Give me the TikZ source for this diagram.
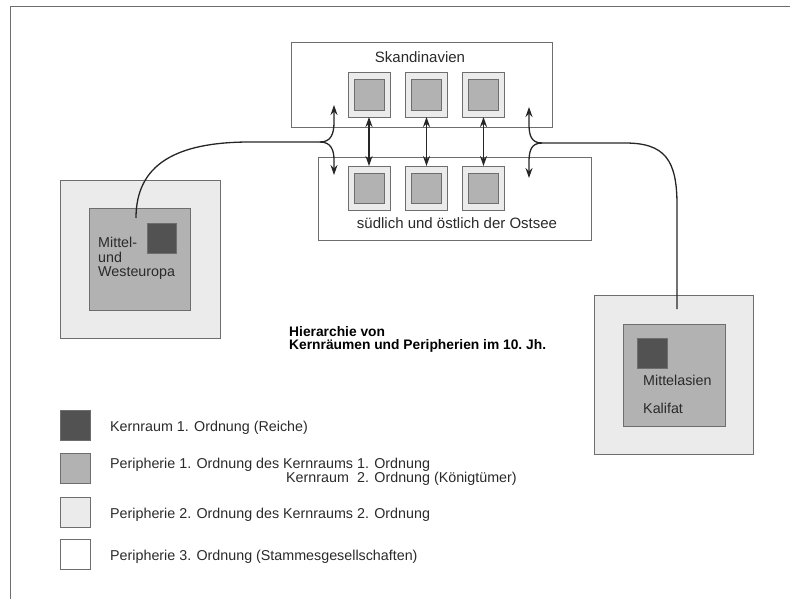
\documentclass[tikz,border=0pt]{standalone}
\usepackage{fontspec}
\setmainfont{Liberation Sans}
\usetikzlibrary{arrows.meta}

\definecolor{kern}{HTML}{525252}
\definecolor{peri}{HTML}{B2B2B2}
\definecolor{perizwei}{HTML}{EBEBEB}
\definecolor{rand}{HTML}{6E6E6E}
\definecolor{schrift}{HTML}{2A2A2A}

\tikzset{
  feld/.style={draw=rand, line width=1pt, inner sep=0pt, outer sep=0pt},
  kernfeld/.style={feld, fill=kern, minimum size=30pt},
  perifeld/.style={feld, fill=peri},
  randfeld/.style={feld, fill=perizwei},
  leerfeld/.style={feld, fill=white},
  schrifttext/.style={font=\fontsize{14.3}{14.5}\selectfont, text=schrift, inner sep=0pt, anchor=base west},
  titeltext/.style={font=\bfseries\fontsize{13.8}{12.8}\selectfont, text=black, inner sep=0pt, align=left, anchor=north west},
  weg/.style={draw=black!85, line width=1.3pt},
  pfeil/.style={weg, -{Stealth[length=10pt,width=7pt]}},
  doppelpfeil/.style={weg, {Stealth[length=10pt,width=7pt]}-{Stealth[length=10pt,width=7pt]}}
}

\begin{document}
\begin{tikzpicture}[x=1pt,y=-1pt]
\useasboundingbox (0,0) rectangle (799,599);
\draw[rand, line width=1pt] (10,599) -- (10,7) -- (790,7);

% Ostseeraum
\node[leerfeld, minimum width=261pt, minimum height=84pt] (skand) at (421.5,85) {};
\node[schrifttext, font=\fontsize{15}{15}\selectfont, anchor=base] (skandtext) at (420,63) {Skandinavien};
\node[leerfeld, minimum width=273pt, minimum height=83pt] (ostsee) at (454.5,198.5) {};
\node[schrifttext, font=\fontsize{15}{15}\selectfont, anchor=base] (ostseetext) at (457,228) {südlich und östlich der Ostsee};

\foreach \i/\x in {1/369,2/426.5,3/483.5} {
  \node[randfeld, minimum width=42pt, minimum height=44pt] (s\i) at (\x,95) {};
  \node[perifeld, minimum size=30pt] (si\i) at (\x,95) {};
  \node[randfeld, minimum width=42pt, minimum height=44pt] (o\i) at (\x,188) {};
  \node[perifeld, minimum size=30pt] (oi\i) at (\x,188) {};
  \draw[doppelpfeil] (s\i) -- (o\i);
}

% Mittel- und Westeuropa
\node[randfeld, minimum width=160pt, minimum height=158pt] (weu) at (140,259) {};
\node[perifeld, minimum width=101pt, minimum height=102pt] (weuin) at (139.5,259) {};
\node[kernfeld, minimum width=29pt] (weukern) at (161.5,238) {};
\node[schrifttext, align=left, anchor=north west] (weutext) at (98,237) {Mittel-\\und\\Westeuropa};

% Mittelasien
\node[randfeld, minimum size=159pt] (asien) at (673.5,374.5) {};
\node[perifeld, minimum size=102pt] (asienin) at (674,375) {};
\node[kernfeld] (asienkern) at (652,353) {};
\node[schrifttext] (asientext) at (643,385) {Mittelasien};
\node[schrifttext] (kalifat) at (643,413) {Kalifat};

% Verbindungen
\coordinate (lstart) at (136,218);
\coordinate (lgabel) at (320,142);
\coordinate (loben) at (334,105);
\coordinate (lunten) at (334,175);
\draw[weg] (lstart) .. controls (136,165) and (175,142) .. (250,142) -- (lgabel);
\draw[pfeil] (lgabel) .. controls (331,142) and (334,134) .. (334,122) -- (loben);
\draw[pfeil] (lgabel) .. controls (331,142) and (334,150) .. (334,160) -- (lunten);

\coordinate (rstart) at (677,309);
\coordinate (rgabel) at (542,143);
\coordinate (roben) at (529,107);
\coordinate (runten) at (529,178);
\draw[weg] (rstart) -- (677,205) .. controls (677,160) and (665,143) .. (625,143) -- (rgabel);
\draw[pfeil] (rgabel) .. controls (531,143) and (529,135) .. (529,124) -- (roben);
\draw[pfeil] (rgabel) .. controls (531,143) and (529,151) .. (529,162) -- (runten);

\node[titeltext] (titel) at (289,326) {Hierarchie von\\Kernräumen und Peripherien im 10.\ Jh.};

% Legende
\foreach \n/\y/\s in {1/425.5/kernfeld,2/468.5/perifeld,3/512/randfeld,4/554.5/leerfeld}
  \node[\s, minimum size=30pt] (leg\n) at (75,\y) {};
\node[schrifttext] (legtext1) at (110,431) {Kernraum 1. Ordnung (Reiche)};
\node[schrifttext] (legtext2) at (110,468) {Peripherie 1. Ordnung des Kernraums 1. Ordnung};
\node[schrifttext] (legtext2a) at (286,482) {Kernraum};
\node[schrifttext] (legtext2b) at (357,482) {2. Ordnung (Königtümer)};
\node[schrifttext] (legtext3) at (110,518) {Peripherie 2. Ordnung des Kernraums 2. Ordnung};
\node[schrifttext] (legtext4) at (110,560) {Peripherie 3. Ordnung (Stammesgesellschaften)};
\end{tikzpicture}
\end{document}
